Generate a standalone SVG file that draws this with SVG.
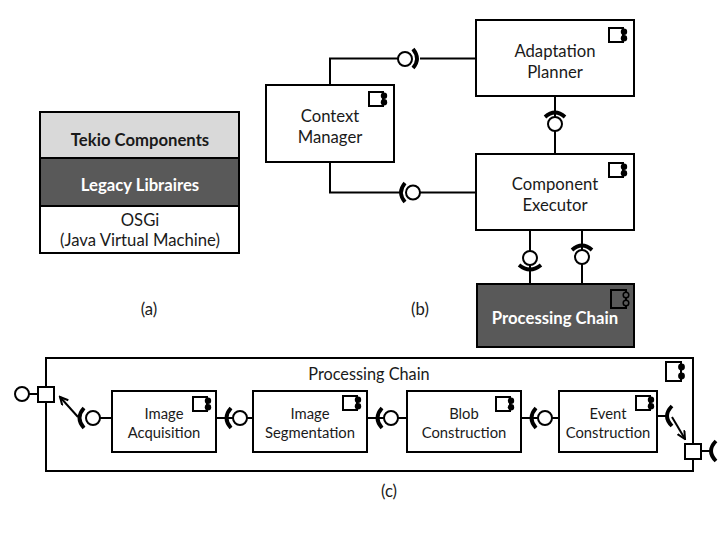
<svg xmlns="http://www.w3.org/2000/svg" width="720" height="540" viewBox="0 0 720 540">
<style>
text{font-family:"Lato","Carlito","Liberation Sans",sans-serif;font-size:16.7px;fill:#1a1a1a;text-anchor:middle}
.b{font-weight:700}
.w{fill:#fff}
.s{font-size:14.8px}
.t{font-size:16.3px}
.box{fill:#fff;stroke:#000;stroke-width:2}
.dark{fill:#595959;stroke:#000;stroke-width:2}
.ln{fill:none;stroke:#000;stroke-width:2}
.lc{fill:#fff;stroke:#000;stroke-width:2}
.arc{fill:none;stroke:#000;stroke-width:3.8}
.ic{fill:none;stroke:#000;stroke-width:2}
.d{fill:#000}
</style>
<defs>
<marker id="ah" markerWidth="10" markerHeight="10" refX="8.500" refY="4.500" orient="auto" markerUnits="userSpaceOnUse"><path d="M0.500,0.500L8.500,4.500L0.500,8.500" fill="none" stroke="#000" stroke-width="2"/></marker>
<g id="ico"><rect x="0" y="0" width="14" height="14" class="ic"/><circle cx="15" cy="3.700" r="3.200" class="d"/><circle cx="15" cy="10.300" r="3.200" class="d"/></g>
<g id="icoL"><rect x="0" y="0" width="15" height="19" class="ic"/><circle cx="15.500" cy="5" r="3.400" class="d"/><circle cx="15.500" cy="14" r="3.400" class="d"/></g>
</defs>

<g id="stack">
<rect x="40" y="112" width="199" height="46" fill="#d9d9d9" stroke="#000" stroke-width="2"/>
<rect x="40" y="158" width="199" height="48" class="dark"/>
<rect x="40" y="206" width="199" height="47" class="box"/>
<text x="140" y="146" class="b">Tekio Components</text>
<text x="140" y="191" class="b w">Legacy Libraires</text>
<text x="140" y="226">OSGi</text>
<text x="140" y="246">(Java Virtual Machine)</text>
</g>
<text x="149" y="315">(a)</text>
<text x="420" y="315">(b)</text>
<text x="389" y="497">(c)</text>

<g id="connectors">
<path class="ln" d="M330,85V58.500H398M420,58.500H476"/>
<circle class="lc" cx="405" cy="59" r="7"/>
<path class="arc" d="M413,49Q421,59 413,68"/>
<path class="ln" d="M330,162V192.500H400M420,192.500H476"/>
<circle class="lc" cx="413" cy="192.500" r="7"/>
<path class="arc" d="M405,183Q397,192.500 405,202"/>
<path class="ln" d="M555,96V117M555,131V154"/>
<circle class="lc" cx="555" cy="124" r="7"/>
<path class="arc" d="M545,117Q555,108 565,117"/>
<path class="ln" d="M530,230V251M530,265V284"/>
<circle class="lc" cx="530" cy="258" r="7"/>
<path class="arc" d="M519,265Q530,274 541,265"/>
<path class="ln" d="M582,230V250M582,264V284"/>
<circle class="lc" cx="582" cy="257" r="7"/>
<path class="arc" d="M572,250Q582,241 592,250"/>
<path class="ln" d="M29,394H38M100,418H112M216,418H233M247,418H253M367,418H384M398,418H407M521,418H538M552,418H559M657,416H667M701,451H710"/>
<circle class="lc" cx="22" cy="394" r="7"/>
<circle class="lc" cx="93" cy="418" r="7"/>
<circle class="lc" cx="240" cy="418" r="7"/>
<circle class="lc" cx="391" cy="418" r="7"/>
<circle class="lc" cx="545" cy="418" r="7"/>
<path class="arc" d="M84,408Q75,418 84,428"/>
<path class="arc" d="M231,408Q222,418 231,428"/>
<path class="arc" d="M382,408Q373,418 382,428"/>
<path class="arc" d="M536,408Q527,418 536,428"/>
<path class="arc" d="M672,406Q662,416 672,426"/>
<path class="arc" d="M716,441Q706,451 716,461"/>
<path class="ln" d="M78,417L60,397" marker-end="url(#ah)"/>
<path class="ln" d="M672,417L685,439" marker-end="url(#ah)"/>
</g>

<g id="context-manager">
<rect x="266" y="85" width="128" height="77" class="box"/>
<use href="#ico" x="369" y="92"/>
<text x="330" y="122">Context</text>
<text x="330" y="143">Manager</text>
</g>
<g id="adaptation-planner">
<rect x="476" y="20" width="158" height="76" class="box"/>
<use href="#ico" x="609" y="28"/>
<text x="555" y="57">Adaptation</text>
<text x="555" y="78">Planner</text>
</g>
<g id="component-executor">
<rect x="476" y="154" width="158" height="76" class="box"/>
<use href="#ico" x="609" y="163"/>
<text x="555" y="190">Component</text>
<text x="555" y="211">Executor</text>
</g>
<g id="processing-chain-node">
<rect x="477" y="284" width="157" height="63" class="dark"/>
<rect x="611" y="290" width="15" height="18" class="ic"/>
<circle cx="626" cy="295" r="2.800" fill="#595959" stroke="#000" stroke-width="1.500"/>
<circle cx="626" cy="303" r="2.800" fill="#595959" stroke="#000" stroke-width="1.500"/>
<text x="555" y="324" class="b w">Processing Chain</text>
</g>

<g id="processing-chain">
<rect x="46" y="358" width="647" height="113" fill="none" stroke="#000" stroke-width="2"/>
<use href="#icoL" x="666" y="362"/>
<text x="369" y="380" class="t">Processing Chain</text>
</g>
<g id="port-in"><rect x="38" y="387" width="16" height="15" class="box"/></g>
<g id="port-out"><rect x="685" y="444" width="16" height="15" class="box"/></g>
<g id="image-acquisition">
<rect x="112" y="391" width="104" height="61" class="box"/>
<use href="#ico" x="193" y="397"/>
<text x="164" y="419" class="s">Image</text>
<text x="164" y="438" class="s">Acquisition</text>
</g>
<g id="image-segmentation">
<rect x="253" y="391" width="114" height="61" class="box"/>
<use href="#ico" x="343" y="396"/>
<text x="310" y="419" class="s">Image</text>
<text x="310" y="438" class="s">Segmentation</text>
</g>
<g id="blob-construction">
<rect x="407" y="391" width="114" height="61" class="box"/>
<use href="#ico" x="496" y="397"/>
<text x="464" y="419" class="s">Blob</text>
<text x="464" y="438" class="s">Construction</text>
</g>
<g id="event-construction">
<rect x="559" y="391" width="98" height="61" class="box"/>
<use href="#ico" x="636" y="396"/>
<text x="608" y="419" class="s">Event</text>
<text x="608" y="438" class="s">Construction</text>
</g>
</svg>
